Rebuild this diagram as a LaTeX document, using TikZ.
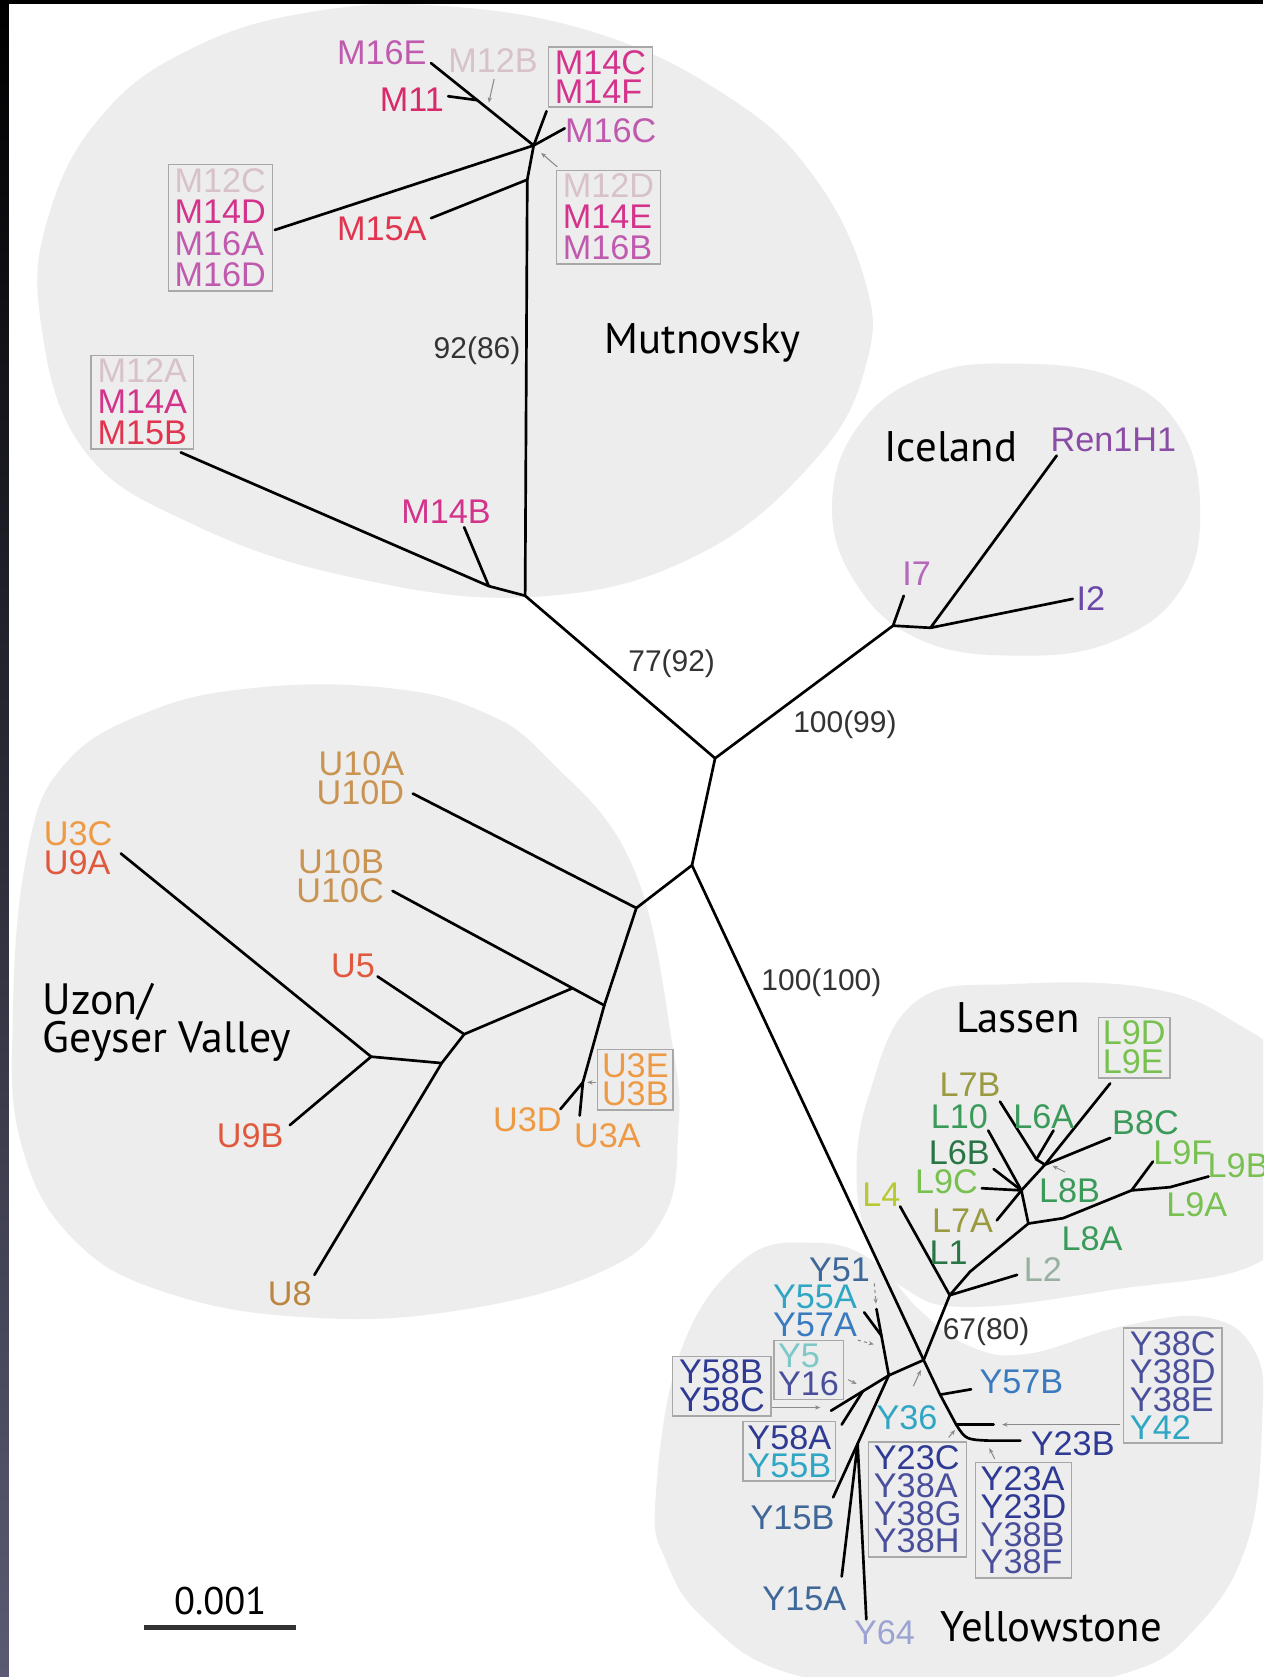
\documentclass[tikz,border=0pt]{standalone}
\usepackage{fontspec}
\setmainfont{Liberation Sans}
\newfontfamily\regfont{PT Sans}
\usetikzlibrary{arrows.meta,calc}
\definecolor{blobc}{HTML}{EDEDED}
\definecolor{boxc}{HTML}{A8A8A8}
\definecolor{stripc}{HTML}{5A5A73}
\definecolor{supc}{HTML}{333333}
\definecolor{arrc}{HTML}{8A8A8A}
% Mutnovsky
\definecolor{mLight}{HTML}{D8C2CA}
\definecolor{mMag}{HTML}{D4338C}
\definecolor{mPurp}{HTML}{C05AAE}
\definecolor{mRed}{HTML}{E0344F}
\definecolor{mCrim}{HTML}{D82A6A}
% Iceland
\definecolor{iRen}{HTML}{8A4DA6}
\definecolor{iTwo}{HTML}{6A48A8}
\definecolor{iSeven}{HTML}{B568B8}
% Uzon
\definecolor{uTan}{HTML}{C99452}
\definecolor{uOrange}{HTML}{EE9A45}
\definecolor{uRed}{HTML}{E0593F}
\definecolor{uBrown}{HTML}{BB8740}
% Lassen
\definecolor{lOlive}{HTML}{9A9A40}
\definecolor{lGreen}{HTML}{3A9A5A}
\definecolor{lDark}{HTML}{2A7545}
\definecolor{lLight}{HTML}{78C050}
\definecolor{lLime}{HTML}{B8C830}
\definecolor{lGrey}{HTML}{98B0A0}
% Yellowstone
\definecolor{yNavy}{HTML}{2E3A93}
\definecolor{yIndigo}{HTML}{4A4F9C}
\definecolor{ySteel}{HTML}{3F6898}
\definecolor{yBlue}{HTML}{3A7BC0}
\definecolor{yCyan}{HTML}{2FA6C4}
\definecolor{yLCyan}{HTML}{7FC8C8}
\definecolor{yLav}{HTML}{9CA3D2}
\begin{document}
\begin{tikzpicture}[x=1pt,y=-1pt,
  tree/.style={line width=2.5pt,black,line cap=round,line join=round},
  gar/.style={draw=arrc,line width=1pt,-{Stealth[length=5pt,width=4pt]}},
  lab/.style={font=\fontsize{32}{27}\selectfont,inner sep=0pt},
  gbox/.style={lab,draw=boxc,line width=1.3pt,inner xsep=6pt,inner ysep=3.5pt,align=left},
  supv/.style={font=\fontsize{28}{30}\selectfont,text=supc,inner sep=0pt},
  region/.style={font=\regfont\fontsize{40}{42}\selectfont,inner sep=0pt,align=left},
  blob/.style={fill=blobc}]
\useasboundingbox (0,0) rectangle (1181,1568);
\clip (0,0) rectangle (1181,1568);
\fill[white] (0,0) rectangle (1181,1568);
% ---------- blobs ----------
\fill[blob] plot[smooth cycle,tension=0.7] coordinates {(38,300) (46,200) (96,107) (180,45) (292,11) (420,6) (561,32) (680,90) (758,161) (808,260) (810,340) (762,430) (650,520) (500,558) (330,540) (180,490) (78,420)};
\fill[blob] plot[smooth cycle,tension=0.7] coordinates {(778,470) (805,395) (870,350) (950,340) (1040,352) (1100,395) (1122,470) (1105,550) (1040,600) (950,613) (860,598) (800,545)};
\fill[blob] plot[smooth cycle,tension=0.7] coordinates {(12,950) (25,800) (60,715) (140,665) (240,643) (360,643) (450,665) (514,711) (592,811) (629,979) (634,1060) (620,1139) (560,1190) (430,1225) (292,1232) (160,1210) (70,1160) (20,1070)};
\fill[blob] plot[smooth cycle,tension=0.7] coordinates {(801,1106) (813,1022) (857,936) (950,920) (1075,924) (1153,955) (1200,1000) (1210,1100) (1181,1178) (1040,1206) (906,1222) (848,1206) (817,1169)};
\fill[blob] plot[smooth cycle,tension=0.7] coordinates {(613,1400) (637,1262) (695,1178) (760,1162) (815,1178) (860,1225) (905,1258) (960,1266) (1050,1240) (1130,1232) (1174,1265) (1180,1330) (1167,1440) (1120,1520) (1050,1565) (900,1585) (740,1565) (660,1515) (623,1460)};
% ---------- edge strips ----------
\fill[black] (0,0) rectangle (1181,3.8);
\shade[top color=black,bottom color=stripc] (0,0) rectangle (8.4,1568);
% ---------- coordinates ----------
\coordinate (C1) at (668.6,709);
\coordinate (C2) at (647,809);
\coordinate (Mroot) at (491,557);
\coordinate (Iroot) at (835,585);
\coordinate (U0) at (595,849);
\coordinate (Y0) at (863.6,1271.6);
\coordinate (LR) at (888,1211);
% Mutnovsky
\coordinate (M1) at (457,548);
\coordinate (M15Bend) at (169,423);
\coordinate (M14Bend) at (434,493);
\coordinate (Mmid) at (493,168);
\coordinate (M15Aend) at (403,204);
\coordinate (Mtop) at (499,136);
\coordinate (M12Cend) at (257,215);
\coordinate (M16Eend) at (403,59);
\coordinate (M11j) at ($(Mtop)!0.55!(M16Eend)$);
\coordinate (M11end) at (419,90);
\coordinate (M14Cj) at (511,104);
\coordinate (M16Cend) at (528,120);
\coordinate (a12Bs) at (462,74);
\coordinate (a12Bt) at (457,96);
\coordinate (a12Ds) at (521,156);
\coordinate (a12Dt) at (506,143);
% Iceland
\coordinate (I7end) at (845,557);
\coordinate (I1) at (870,587);
\coordinate (Renend) at (988,426);
\coordinate (I2end) at (1003,560);
% Uzon
\coordinate (U10Dend) at (386,742);
\coordinate (U1) at (565,940);
\coordinate (U10Cend) at (367,833);
\coordinate (U1b) at ($(U10Cend)!0.85!(U1)$);
\coordinate (U2) at (434,967);
\coordinate (U5end) at (353,913);
\coordinate (U4) at (413,994);
\coordinate (U8end) at (294,1192);
\coordinate (U9n) at (347,988);
\coordinate (U3Cend) at (113,798);
\coordinate (U9Bend) at (271,1052);
\coordinate (U3n) at (545,1012);
\coordinate (U3Aend) at (542,1043);
\coordinate (U3Dend) at (524,1037);
\coordinate (aU3s) at (557,1012);
\coordinate (aU3t) at (549,1012);
% Lassen
\coordinate (Lbend) at (907,1189);
\coordinate (LB) at (961.5,1144);
\coordinate (LA) at (955,1113);
\coordinate (LE) at (977,1089);
\coordinate (L9DEend) at (1038,1013);
\coordinate (L76) at (969,1084);
\coordinate (L7Bend) at (935,1030);
\coordinate (L6Aend) at (985,1057);
\coordinate (B8Cend) at (1038,1064);
\coordinate (L10end) at (924,1057);
\coordinate (L6Bend) at (929,1093);
\coordinate (L9Cend) at (918,1111);
\coordinate (L7Aend) at (932,1141);
\coordinate (Lp1) at (994,1139);
\coordinate (L9n) at (1058,1113);
\coordinate (Lp2) at (1094,1110);
\coordinate (L9Bend) at (1130,1100);
\coordinate (L9Fend) at (1078,1086);
\coordinate (L2end) at (951,1192);
\coordinate (L4end) at (841.6,1128);
\coordinate (aL8Bs) at (996,1096);
\coordinate (aL8Bt) at (984,1090);
% Yellowstone
\coordinate (Ya) at (879,1304);
\coordinate (Y57Bend) at (908,1299);
\coordinate (Yb) at (894,1332);
\coordinate (Yc) at (925,1347);
\coordinate (Y23Bend) at (954,1347);
\coordinate (Ybr) at (929,1332);
\coordinate (Y1) at (831,1286);
\coordinate (Yv) at (819.5,1224);
\coordinate (Y55Aend) at (808,1227);
\coordinate (Y55Aj) at ($(Y1)!0.6!(Yv)$);
\coordinate (Yq) at (777,1319);
\coordinate (Yp) at ($(Y1)!0.45!(Yq)$);
\coordinate (Y58Aend) at (787,1332);
\coordinate (Y15Bend) at (779,1400);
\coordinate (Y2) at ($(Y1)!0.56!(Y15Bend)$);
\coordinate (Y15Aend) at (787,1474);
\coordinate (Y64end) at (810,1514);
\coordinate (aY51s) at (817.5,1200);
\coordinate (aY51t) at (819,1219);
\coordinate (aY57As) at (802,1253);
\coordinate (aY57At) at (817,1257);
\coordinate (aY16s) at (793,1290);
\coordinate (aY16t) at (801,1294);
\coordinate (aY58s) at (722,1316);
\coordinate (aY58t) at (767,1316);
\coordinate (aY36s) at (854,1296);
\coordinate (aY36t) at (861,1281);
\coordinate (aY23Cs) at (887,1344);
\coordinate (aY23Ct) at (893,1337);
\coordinate (aY23As) at (930,1364);
\coordinate (aY23At) at (925,1354);
\coordinate (aY38s) at (1047,1332);
\coordinate (aY38t) at (937,1332);
\coordinate (sbL) at (135,1522);
\coordinate (sbR) at (277,1522);
% ---------- tree ----------
\draw[tree] (Mroot) -- (C1) -- (Iroot);
\draw[tree] (C1) -- (C2) -- (U0);
\draw[tree] (C2) -- (Y0) -- (Ya) -- (Yb) .. controls (903,1346) .. (Yc) -- (Y23Bend);
% Mutnovsky
\draw[tree] (M15Bend) -- (M1) -- (Mroot) -- (Mmid) -- (Mtop);
\draw[tree] (M1) -- (M14Bend);
\draw[tree] (Mmid) -- (M15Aend);
\draw[tree] (Mtop) -- (M12Cend);
\draw[tree] (Mtop) -- (M16Eend);
\draw[tree] (M11end) -- (M11j);
\draw[tree] (Mtop) -- (M14Cj);
\draw[tree] (Mtop) -- (M16Cend);
\draw[gar] (a12Bs) -- (a12Bt);
\draw[gar] (a12Ds) -- (a12Dt);
% Iceland
\draw[tree] (Iroot) -- (I7end);
\draw[tree] (Iroot) -- (I1) -- (Renend);
\draw[tree] (I1) -- (I2end);
% Uzon
\draw[tree] (U0) -- (U10Dend);
\draw[tree] (U0) -- (U1) -- (U1b) -- (U10Cend);
\draw[tree] (U1b) -- (U2) -- (U5end);
\draw[tree] (U2) -- (U4) -- (U8end);
\draw[tree] (U4) -- (U9n) -- (U3Cend);
\draw[tree] (U9n) -- (U9Bend);
\draw[tree] (U1) -- (U3n) -- (U3Aend);
\draw[tree] (U3n) -- (U3Dend);
\draw[gar,line width=0.8pt] (aU3s) -- (aU3t);
% Lassen
\draw[tree] (Y0) -- (LR);
\draw[tree] (LR) -- (L4end);
\draw[tree] (LR) -- (L2end);
\draw[tree] (LR) -- (Lbend) -- (LB) -- (LA) -- (LE) -- (L9DEend);
\draw[tree] (LE) -- (B8Cend);
\draw[tree] (LE) -- (L76) -- (L7Bend);
\draw[tree] (L76) -- (L6Aend);
\draw[tree] (LA) -- (L10end);
\draw[tree] (LA) -- (L6Bend);
\draw[tree] (LA) -- (L9Cend);
\draw[tree] (LA) -- (L7Aend);
\draw[tree] (LB) -- (Lp1) -- (L9n) -- (Lp2) -- (L9Bend);
\draw[tree] (L9n) -- (L9Fend);
\draw[gar,line width=0.8pt] (aL8Bs) -- (aL8Bt);
% Yellowstone
\draw[tree] (Ya) -- (Y57Bend);
\draw[tree] (Yb) -- (Ybr);
\draw[tree] (Y0) -- (Y1) -- (Yv);
\draw[tree] (Y55Aend) -- (Y55Aj);
\draw[tree] (Y1) -- (Yq);
\draw[tree] (Yp) -- (Y58Aend);
\draw[tree] (Y1) -- (Y2) -- (Y15Bend);
\draw[tree] (Y2) -- (Y15Aend);
\draw[tree] (Y2) -- (Y64end);
\draw[gar,dashed] (aY51s) -- (aY51t);
\draw[gar,dashed] (aY57As) -- (aY57At);
\draw[gar] (aY16s) -- (aY16t);
\draw[gar] (aY58s) -- (aY58t);
\draw[gar] (aY36s) -- (aY36t);
\draw[gar] (aY23Cs) -- (aY23Ct);
\draw[gar] (aY23As) -- (aY23At);
\draw[gar] (aY38s) -- (aY38t);
% scale bar
\draw[line width=4.5pt,draw=supc] (sbL) -- (sbR);
% ---------- labels ----------
% Mutnovsky
\node[lab,text=mPurp] (tM16E) at (357,49) {M16E};
\node[lab,text=mLight] (tM12B) at (461,57) {M12B};
\node[gbox,fill=blobc] (bM14C) at (561.5,72) {\textcolor{mMag}{M14C}\\\textcolor{mMag}{M14F}};
\node[lab,text=mCrim] (tM11) at (385,93) {M11};
\node[lab,text=mPurp] (tM16C) at (571,122) {M16C};
\node[gbox,fill=blobc,font=\fontsize{32}{29.5}\selectfont] (bM12C) at (206,213) {\textcolor{mLight}{M12C}\\\textcolor{mMag}{M14D}\\\textcolor{mPurp}{M16A}\\\textcolor{mPurp}{M16D}};
\node[lab,text=mRed] (tM15A) at (357,214) {M15A};
\node[gbox,fill=blobc,font=\fontsize{32}{29}\selectfont] (bM12D) at (569,203) {\textcolor{mLight}{M12D}\\\textcolor{mMag}{M14E}\\\textcolor{mPurp}{M16B}};
\node[supv] (s9286) at (446,328) {92(86)};
\node[region] (rMut) at (657,321) {Mutnovsky};
\node[gbox,fill=blobc,font=\fontsize{32}{29}\selectfont] (bM12A) at (133,376) {\textcolor{mLight}{M12A}\\\textcolor{mMag}{M14A}\\\textcolor{mRed}{M15B}};
\node[lab,text=mMag] (tM14B) at (417,478) {M14B};
% Iceland
\node[region] (rIce) at (889,418) {Iceland};
\node[lab,text=iRen] (tRen) at (1041,411) {Ren1H1};
\node[lab,text=iSeven] (tI7) at (857,536) {I7};
\node[lab,text=iTwo] (tI2) at (1020,560) {I2};
% central supports
\node[supv] (s7792) at (628,621) {77(92)};
\node[supv] (s10099) at (790,678) {100(99)};
\node[supv] (s100100) at (768,919) {100(100)};
% Uzon
\node[lab,text=uTan,align=right] (tU10A) at (337,728) {U10A\\U10D};
\node[lab,align=left] (tU3C) at (73,793) {\textcolor{uOrange}{U3C}\\\textcolor{uRed}{U9A}};
\node[lab,text=uTan,align=right] (tU10B) at (318,819) {U10B\\U10C};
\node[lab,text=uRed] (tU5) at (330,903) {U5};
\node[region,anchor=west,font=\regfont\fontsize{41}{36}\selectfont] (rUzon) at (40,956) {Uzon/\\Geyser Valley};
\node[lab,text=uRed] (tU9B) at (234,1062) {U9B};
\node[lab,text=uBrown] (tU8) at (271,1210) {U8};
\node[lab,text=uOrange] (tU3D) at (493,1047) {U3D};
\node[lab,text=uOrange] (tU3A) at (568,1062) {U3A};
\node[gbox,fill=blobc,text=uOrange,inner xsep=4pt] (bU3E) at (594,1009.5) {U3E\\U3B};
% Lassen
\node[region] (rLas) at (952,952) {Lassen};
\node[gbox,fill=blobc,text=lLight,inner xsep=4pt] (bL9D) at (1060.5,979.5) {L9D\\L9E};
\node[lab,text=lOlive] (tL7B) at (907,1014) {L7B};
\node[lab,text=lGreen] (tL10) at (897,1044) {L10};
\node[lab,text=lGreen] (tL6A) at (976,1044) {L6A};
\node[lab,text=lGreen] (tB8C) at (1071,1050) {B8C};
\node[lab,text=lDark] (tL6B) at (897,1078) {L6B};
\node[lab,text=lLight] (tL9F) at (1106,1078) {L9F};
\node[lab,text=lLight,anchor=west] (tL9B) at (1129,1090) {L9B};
\node[lab,text=lLight] (tL9C) at (885,1105) {L9C};
\node[lab,text=lGreen] (tL8B) at (1000,1113) {L8B};
\node[lab,text=lLight] (tL9A) at (1119,1126) {L9A};
\node[lab,text=lLime] (tL4) at (824,1117) {L4};
\node[lab,text=lOlive] (tL7A) at (900,1141) {L7A};
\node[lab,text=lGreen] (tL8A) at (1021,1158) {L8A};
\node[lab,text=lDark] (tL1) at (887,1171) {L1};
\node[lab,text=lGrey] (tL2) at (975,1187) {L2};
% Yellowstone
\node[lab,text=ySteel] (tY51) at (785,1187) {Y51};
\node[lab,text=yCyan] (tY55A) at (762,1213) {Y55A};
\node[lab,text=yBlue] (tY57A) at (762,1239) {Y57A};
\node[gbox,fill=blobc,inner xsep=4pt,font=\fontsize{32}{26}\selectfont] (bY5) at (756,1281) {\textcolor{yLCyan}{Y5}\\\textcolor{yIndigo}{Y16}};
\node[gbox,fill=blobc,text=yNavy,font=\fontsize{32}{26}\selectfont] (bY58B) at (675,1296) {Y58B\\Y58C};
\node[supv] (s6780) at (922,1245) {67(80)};
\node[lab,text=yBlue] (tY57B) at (955,1292) {Y57B};
\node[lab,text=yCyan] (tY36) at (848,1326) {Y36};
\node[gbox,fill=blobc,inner xsep=4pt,font=\fontsize{32}{26}\selectfont] (bY58A) at (738,1357) {\textcolor{yNavy}{Y58A}\\\textcolor{yCyan}{Y55B}};
\node[gbox,fill=blobc,inner xsep=5pt,font=\fontsize{32}{26}\selectfont] (bY23C) at (858,1402) {\textcolor{yNavy}{Y23C}\\\textcolor{yIndigo}{Y38A}\\\textcolor{yIndigo}{Y38G}\\\textcolor{yIndigo}{Y38H}};
\node[lab,text=yNavy] (tY23B) at (1003,1350) {Y23B};
\node[gbox,fill=blobc,inner xsep=5pt,font=\fontsize{32}{26}\selectfont] (bY23A) at (957,1421.5) {\textcolor{yNavy}{Y23A}\\\textcolor{yNavy}{Y23D}\\\textcolor{yIndigo}{Y38B}\\\textcolor{yIndigo}{Y38F}};
\node[gbox,fill=blobc,font=\fontsize{32}{26}\selectfont] (bY38C) at (1096.5,1295.5) {\textcolor{yIndigo}{Y38C}\\\textcolor{yIndigo}{Y38D}\\\textcolor{yIndigo}{Y38E}\\\textcolor{yCyan}{Y42}};
\node[lab,text=ySteel] (tY15B) at (741,1419) {Y15B};
\node[lab,text=ySteel] (tY15A) at (752,1495) {Y15A};
\node[lab,text=yLav] (tY64) at (827,1527) {Y64};
\node[region] (rYel) at (983,1521) {Yellowstone};
% scale
\node[region,font=\regfont\fontsize{36}{38}\selectfont] (tScale) at (206,1497) {0.001};
\end{tikzpicture}
\end{document}
